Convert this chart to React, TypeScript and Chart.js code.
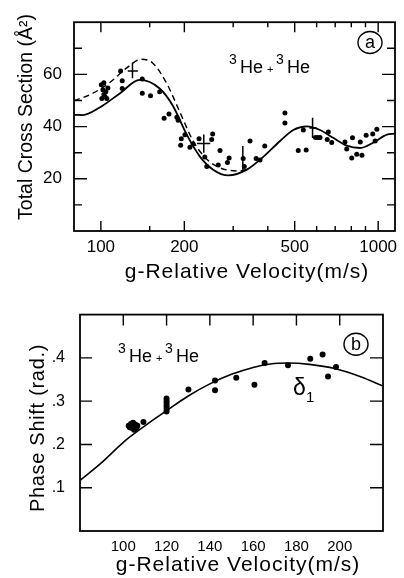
import React, { useEffect, useRef } from 'react';
import { Chart, registerables } from 'chart.js';
Chart.register(...registerables);

const FONT = "'Liberation Sans', Arial, Helvetica, sans-serif";

// ---------- Panel (a): total cross section vs relative velocity ----------
const aSolidV = [80, 86, 99, 117, 138, 163, 182, 204, 228, 254, 288, 336, 385, 443, 494, 553, 617, 688, 770, 862, 962, 1075, 1150];
const aSolidS = [44.5, 44.4, 47.3, 52.7, 57.9, 54.6, 47.9, 36.9, 28.4, 23.5, 21.3, 23.5, 28.4, 34.5, 38.7, 40.1, 38.7, 35.7, 32.7, 31.8, 33.9, 36.9, 37.3];
const aDashV = [80, 91, 108, 124, 140, 154, 173, 193, 215, 241, 269, 292, 315, 336];
const aDashS = [50.0, 52.1, 57.0, 62.5, 65.8, 64.3, 56.4, 45.4, 34.5, 27.5, 24.2, 23.2, 23.0, 23.6];
const aPointV = [100.4, 101.7, 102.5, 104.2, 106, 100.8, 103.4, 102.5, 105, 117.8, 119.4, 119.4, 141, 141, 151, 163, 169, 176, 188, 190, 195, 194, 201, 209.5, 215, 226, 237, 241, 251, 253, 269, 265, 286, 290, 326, 329, 345, 363, 375, 390, 461, 461, 515, 550, 537, 594, 606, 617, 661, 655, 680, 759, 770, 808, 803, 837, 874, 862, 905, 956, 989, 975];
const aPointS = [56, 54.1, 52.3, 53.4, 54.8, 50.8, 51.5, 56.8, 50.8, 61.3, 57.6, 54.6, 58.2, 52.8, 51.8, 53.4, 43.2, 44.8, 43.6, 42.4, 35.3, 32.9, 36.9, 32.1, 33.3, 35.3, 28.4, 24.7, 35.1, 37.2, 30.8, 25.3, 26.2, 28.0, 27.8, 24.7, 34.5, 27.8, 27.2, 32.6, 45.2, 41.4, 30.8, 31.0, 38.7, 35.8, 35.8, 35.8, 37.9, 35.1, 33.9, 34.1, 31.4, 35.7, 28.0, 29.4, 29.0, 34.1, 36.7, 37.2, 39.0, 34.5];
const aErrV = [130, 235, 325, 580];
const aErrS = [61.3, 33.5, 27.6, 39.5];
const aErrVMin = [125, 222, 325, 565];
const aErrVMax = [136, 248, 325, 600];
const aErrSMin = [58.5, 30.0, 23.5, 35.6];
const aErrSMax = [64.5, 37.0, 32.6, 43.4];
const aXLabels = [100, 200, 500, 1000];
const aXMajor = [100, 200, 500, 1000];
const aXMinor = [150, 300, 400, 600, 700, 800, 900];
const aYLabels = [20, 40, 60];
const aYMinor = [10, 30, 50, 70];

// ---------- Panel (b): phase shift vs relative velocity ----------
const bCurveV = [80, 90, 100, 110, 120, 130, 140, 150, 160, 168, 176, 186, 198, 210, 220];
const bCurveD = [0.117, 0.158, 0.205, 0.243, 0.278, 0.312, 0.340, 0.362, 0.378, 0.386, 0.388, 0.385, 0.375, 0.356, 0.335];
const bPointV = [102.5, 103.5, 104.5, 105.5, 106.5, 104, 105, 106, 103, 109.3, 120, 120, 120, 120, 120, 120, 130.1, 142.4, 142.4, 152.2, 160.6, 165.3, 176.1, 186.4, 192.1, 194.6, 198.3];
const bPointD = [0.243, 0.247, 0.250, 0.246, 0.243, 0.238, 0.234, 0.238, 0.240, 0.252, 0.306, 0.300, 0.294, 0.288, 0.282, 0.276, 0.327, 0.348, 0.325, 0.354, 0.338, 0.388, 0.383, 0.398, 0.408, 0.357, 0.379];
const bXLabels = [100, 120, 140, 160, 180, 200];
const bYLabels = [0.1, 0.2, 0.3, 0.4];

const XTITLE = 'g-Relative Velocity(m/s)';
const ATITLE_Y = 'Total Cross Section (Å²)';
const BTITLE_Y = 'Phase Shift (rad.)';

type TickSpec = { axis: 'x' | 'y'; side: 'top' | 'bottom' | 'left' | 'right'; values: number[]; len: number };
type TextSpec = { text: string; x: number; y: number; size: number; align?: CanvasTextAlign; rotate?: boolean; spacing?: number };
type ErrSpec = { v: number[]; s: number[]; vMin: number[]; vMax: number[]; sMin: number[]; sMax: number[] };
type Spec = {
  ticks: TickSpec[];
  texts: TextSpec[];
  circle: { x: number; y: number; r: number; label: string };
  he: { x: number; y: number };
  err?: ErrSpec;
};

function pts(xs: number[], ys: number[]) {
  return xs.map((x, i) => ({ x, y: ys[i] }));
}

function drawText(ctx: CanvasRenderingContext2D, t: TextSpec) {
  ctx.save();
  ctx.fillStyle = '#000';
  ctx.font = `${t.size}px ${FONT}`;
  (ctx as any).letterSpacing = `${t.spacing || 0}px`;
  ctx.textAlign = t.align || 'left';
  ctx.textBaseline = 'alphabetic';
  if (t.rotate) {
    ctx.translate(t.x, t.y);
    ctx.rotate(-Math.PI / 2);
    ctx.fillText(t.text, 0, 0);
  } else {
    ctx.fillText(t.text, t.x, t.y);
  }
  ctx.restore();
}

function makeDecor(spec: Spec) {
  return {
    id: 'decor',
    afterDatasetsDraw(chart: any) {
      const ctx: CanvasRenderingContext2D = chart.ctx;
      const xs = chart.scales.x;
      const ys = chart.scales.y;
      if (spec.err) {
        const e = spec.err;
        ctx.save();
        ctx.strokeStyle = '#000';
        ctx.lineWidth = 1.5;
        for (let i = 0; i < e.v.length; i++) {
          const px = xs.getPixelForValue(e.v[i]);
          const py = ys.getPixelForValue(e.s[i]);
          ctx.beginPath();
          if (e.vMin[i] !== e.vMax[i]) {
            ctx.moveTo(xs.getPixelForValue(e.vMin[i]), py);
            ctx.lineTo(xs.getPixelForValue(e.vMax[i]), py);
          }
          ctx.moveTo(px, ys.getPixelForValue(e.sMin[i]));
          ctx.lineTo(px, ys.getPixelForValue(e.sMax[i]));
          ctx.stroke();
        }
        ctx.restore();
      }
    },
    afterDraw(chart: any) {
      const ctx: CanvasRenderingContext2D = chart.ctx;
      const a = chart.chartArea;
      const xs = chart.scales.x;
      const ys = chart.scales.y;
      ctx.save();
      ctx.strokeStyle = '#000';
      ctx.lineWidth = 1.8;
      ctx.strokeRect(a.left, a.top, a.right - a.left, a.bottom - a.top);
      ctx.lineWidth = 1.4;
      ctx.beginPath();
      for (const t of spec.ticks) {
        for (const v of t.values) {
          if (t.axis === 'x') {
            const px = xs.getPixelForValue(v);
            if (t.side === 'bottom') { ctx.moveTo(px, a.bottom); ctx.lineTo(px, a.bottom - t.len); }
            else { ctx.moveTo(px, a.top); ctx.lineTo(px, a.top + t.len); }
          } else {
            const py = ys.getPixelForValue(v);
            if (t.side === 'left') { ctx.moveTo(a.left, py); ctx.lineTo(a.left + t.len, py); }
            else { ctx.moveTo(a.right, py); ctx.lineTo(a.right - t.len, py); }
          }
        }
      }
      ctx.stroke();
      // circled panel letter
      const c = spec.circle;
      ctx.lineWidth = 1.4;
      ctx.beginPath();
      ctx.ellipse(c.x, c.y, c.r + 1, c.r, 0, 0, Math.PI * 2);
      ctx.stroke();
      ctx.fillStyle = '#000';
      ctx.font = `18px ${FONT}`;
      ctx.textAlign = 'center';
      ctx.textBaseline = 'middle';
      ctx.fillText(c.label, c.x, c.y + 0.5);
      // 3He + 3He label
      const h = spec.he;
      const parts = [
        { t: '3', size: 14, dx: 0, dy: -9 },
        { t: 'He', size: 18, dx: 11, dy: 0 },
        { t: '+', size: 11, dx: 38, dy: 0 },
        { t: '3', size: 14, dx: 47, dy: -9 },
        { t: 'He', size: 18, dx: 58, dy: 0 },
      ];
      ctx.textAlign = 'left';
      ctx.textBaseline = 'alphabetic';
      for (const p of parts) {
        ctx.font = `${p.size}px ${FONT}`;
        ctx.fillText(p.t, h.x + p.dx, h.y + p.dy);
      }
      ctx.restore();
      for (const t of spec.texts) drawText(ctx, t);
    },
  };
}

function scaleFont(size: number) {
  return { family: FONT, size };
}

export default function App() {
  const refA = useRef<HTMLCanvasElement>(null);
  const refB = useRef<HTMLCanvasElement>(null);

  useEffect(() => {
    const specA: Spec = {
      ticks: [
        { axis: 'x', side: 'bottom', values: aXMajor, len: 10 },
        { axis: 'x', side: 'bottom', values: aXMinor, len: 5 },
        { axis: 'x', side: 'top', values: aXMajor, len: 10 },
        { axis: 'x', side: 'top', values: aXMinor, len: 5 },
        { axis: 'y', side: 'left', values: aYLabels, len: 13 },
        { axis: 'y', side: 'left', values: aYMinor, len: 8 },
        { axis: 'y', side: 'right', values: aYLabels, len: 13 },
        { axis: 'y', side: 'right', values: aYMinor, len: 8 },
      ],
      texts: [
        { text: XTITLE, x: 247, y: 278, size: 21, align: 'center', spacing: 1 },
        { text: ATITLE_Y, x: 32, y: 117, size: 19.5, align: 'center', rotate: true },
      ],
      circle: { x: 370, y: 42.5, r: 11, label: 'a' },
      he: { x: 229, y: 73 },
      err: { v: aErrV, s: aErrS, vMin: aErrVMin, vMax: aErrVMax, sMin: aErrSMin, sMax: aErrSMax },
    };
    const specB: Spec = {
      ticks: [
        { axis: 'x', side: 'top', values: bXLabels, len: 11 },
        { axis: 'y', side: 'left', values: bYLabels, len: 12 },
        { axis: 'y', side: 'right', values: bYLabels, len: 13 },
      ],
      texts: [
        { text: XTITLE, x: 238, y: 280.5, size: 21, align: 'center', spacing: 1 },
        { text: BTITLE_Y, x: 44, y: 138, size: 20, align: 'center', rotate: true, spacing: 0.7 },
        { text: 'δ', x: 293, y: 105, size: 23 },
        { text: '1', x: 306, y: 112, size: 15 },
      ],
      circle: { x: 356, y: 54.2, r: 11, label: 'b' },
      he: { x: 118, y: 71.7 },
    };

    const ca = new Chart(refA.current!, {
      type: 'line',
      data: {
        datasets: [
          { data: pts(aSolidV, aSolidS), borderColor: '#000', borderWidth: 1.8, pointRadius: 0, cubicInterpolationMode: 'monotone', fill: false },
          { data: pts(aDashV, aDashS), borderColor: '#000', borderWidth: 1.4, borderDash: [6, 4], pointRadius: 0, cubicInterpolationMode: 'monotone', fill: false },
          { data: pts(aPointV, aPointS), showLine: false, pointRadius: 2.5, pointBackgroundColor: '#000', pointBorderWidth: 0, borderColor: '#000' },
        ],
      } as any,
      options: {
        animation: false,
        responsive: false,
        layout: { padding: { left: 0, top: 12, right: 9, bottom: 0 } },
        plugins: { legend: { display: false }, tooltip: { enabled: false } },
        scales: {
          x: {
            type: 'logarithmic', min: 80, max: 1150,
            grid: { display: false, drawTicks: false }, border: { display: false },
            ticks: { autoSkip: false, maxRotation: 0, padding: 6, color: '#000', font: scaleFont(17), callback: (v: any) => String(v) },
            afterBuildTicks: (s: any) => { s.ticks = aXLabels.map((v) => ({ value: v })); },
            afterFit: (s: any) => { s.height = 59; },
          },
          y: {
            type: 'linear', min: 0, max: 80,
            grid: { display: false, drawTicks: false }, border: { display: false },
            ticks: { autoSkip: false, padding: 12, color: '#000', font: scaleFont(17), callback: (v: any) => String(v) },
            afterBuildTicks: (s: any) => { s.ticks = aYLabels.map((v) => ({ value: v })); },
            afterFit: (s: any) => { s.width = 74; },
          },
        },
      } as any,
      plugins: [makeDecor(specA) as any],
    });

    const cb = new Chart(refB.current!, {
      type: 'line',
      data: {
        datasets: [
          { data: pts(bCurveV, bCurveD), borderColor: '#000', borderWidth: 1.6, pointRadius: 0, cubicInterpolationMode: 'monotone', fill: false },
          { data: pts(bPointV, bPointD), showLine: false, pointRadius: 3, pointBackgroundColor: '#000', pointBorderWidth: 0, borderColor: '#000' },
        ],
      } as any,
      options: {
        animation: false,
        responsive: false,
        layout: { padding: { left: 0, top: 24, right: 21, bottom: 0 } },
        plugins: { legend: { display: false }, tooltip: { enabled: false } },
        scales: {
          x: {
            type: 'linear', min: 80, max: 220,
            grid: { display: false, drawTicks: false }, border: { display: false },
            ticks: { autoSkip: false, maxRotation: 0, padding: 7, color: '#000', font: scaleFont(15), callback: (v: any) => String(v) },
            afterBuildTicks: (s: any) => { s.ticks = bXLabels.map((v) => ({ value: v })); },
            afterFit: (s: any) => { s.height = 47; },
          },
          y: {
            type: 'linear', min: 0, max: 0.5,
            grid: { display: false, drawTicks: false }, border: { display: false },
            ticks: { autoSkip: false, padding: 15, color: '#000', font: scaleFont(16), callback: (v: any) => '.' + Math.round(Number(v) * 10) },
            afterBuildTicks: (s: any) => { s.ticks = bYLabels.map((v) => ({ value: v })); },
            afterFit: (s: any) => { s.width = 80; },
          },
        },
      } as any,
      plugins: [makeDecor(specB) as any],
    });

    return () => { ca.destroy(); cb.destroy(); };
  }, []);

  return (
    <div style={{ position: 'absolute', left: 0, top: 0, width: 404, height: 578, background: '#fff' }}>
      <canvas ref={refA} width={404} height={290} style={{ position: 'absolute', left: 0, top: 0, width: 404, height: 290 }} />
      <canvas ref={refB} width={404} height={288} style={{ position: 'absolute', left: 0, top: 290, width: 404, height: 288 }} />
    </div>
  );
}
